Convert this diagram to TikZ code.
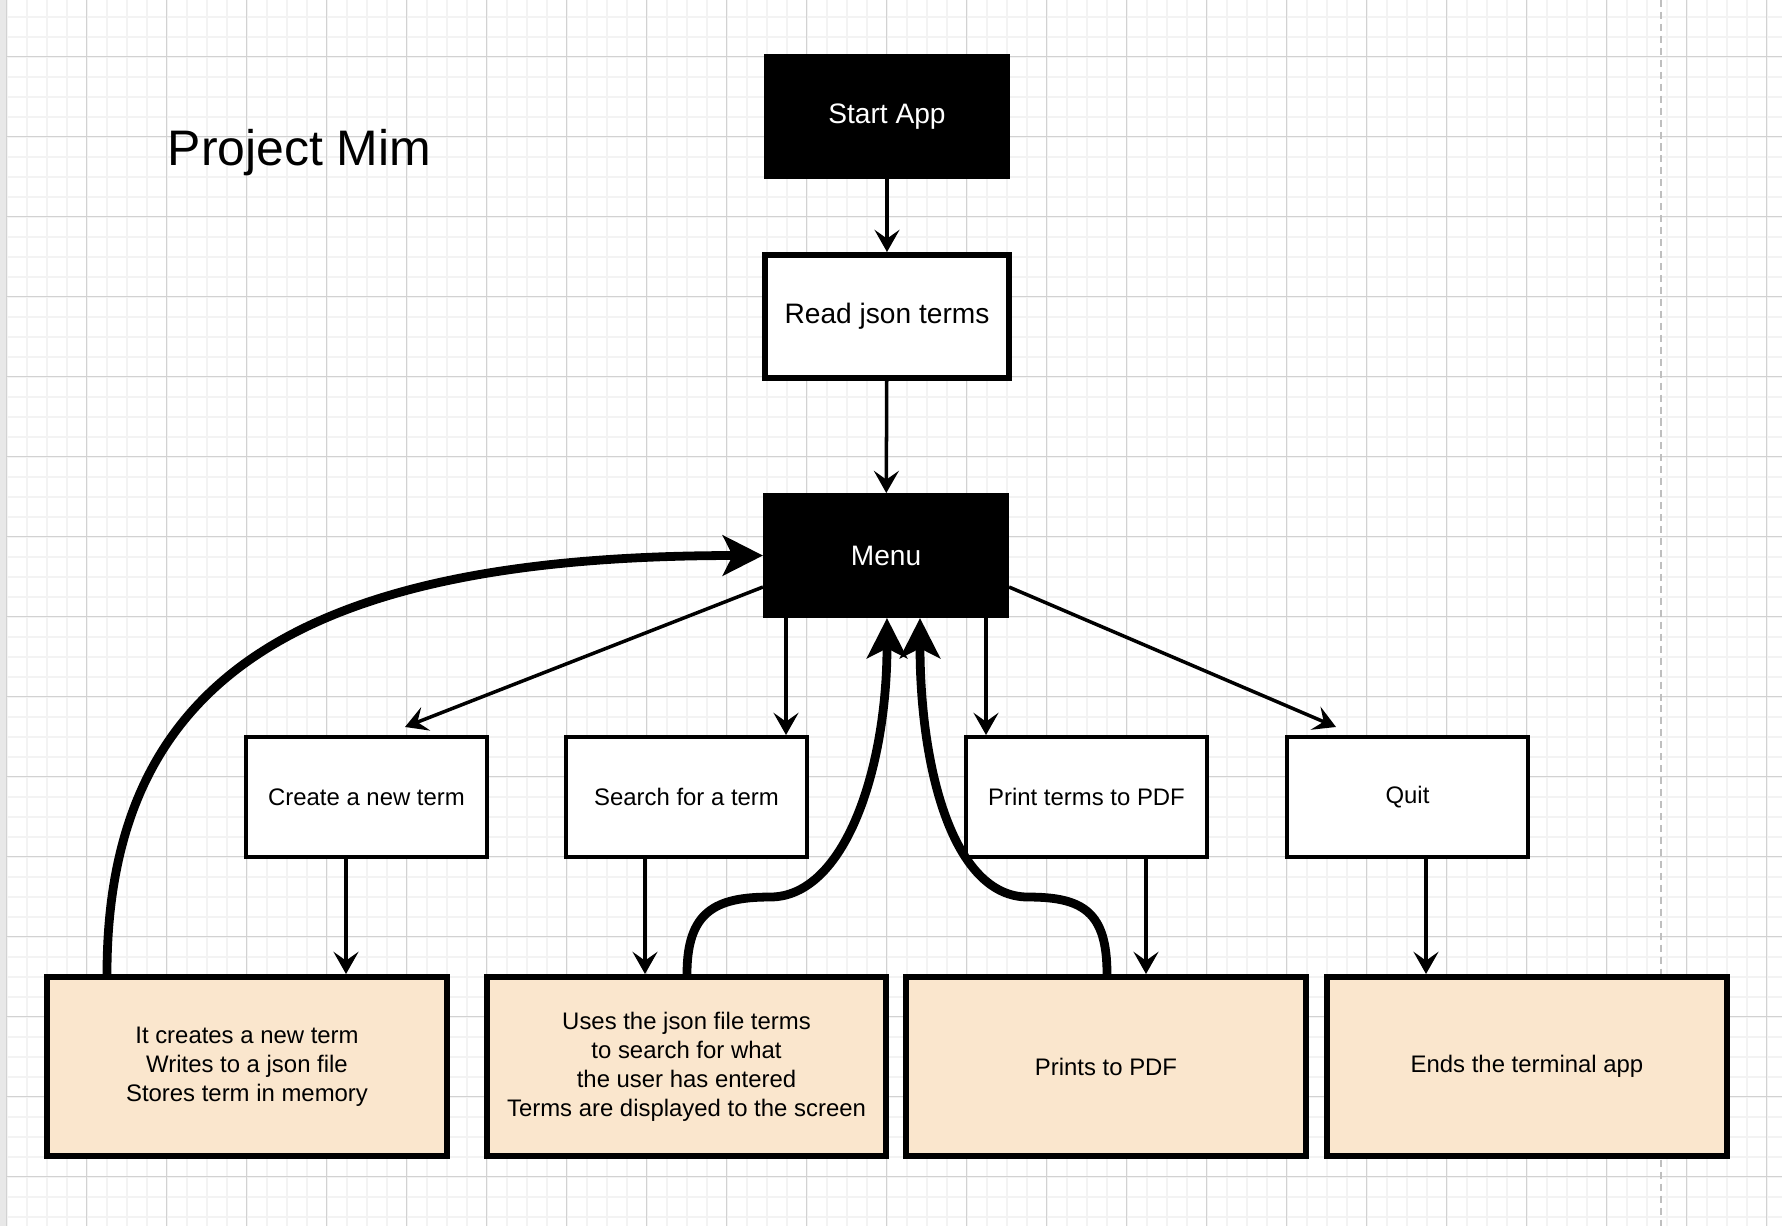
\documentclass[tikz,border=0pt]{standalone}
\usepackage{fontspec}
\setmainfont{Liberation Sans}
\usetikzlibrary{arrows.meta}
\definecolor{peach}{RGB}{250,230,205}
\definecolor{gridminor}{RGB}{243,243,243}
\definecolor{gridmajor}{RGB}{210,210,210}

\begin{document}
\begin{tikzpicture}[
    x=0.01cm, y=-0.01cm,
    dark/.style={draw, fill=black, text=white, line width=1.7pt, minimum width=2.40cm,
                 minimum height=1.19cm, align=center, font=\fontsize{8}{9.6}\selectfont},
    plain/.style={draw, fill=white, line width=1.7pt, minimum width=2.44cm,
                  minimum height=1.23cm, align=center, font=\fontsize{8}{9.6}\selectfont},
    choice/.style={draw, fill=white, line width=1.14pt, minimum width=2.41cm,
                   minimum height=1.20cm, align=center, font=\fontsize{6.8}{8.2}\selectfont},
    result/.style={draw, fill=peach, line width=1.7pt, minimum width=3.99cm,
                   minimum height=1.79cm, align=center, font=\fontsize{6.8}{8.25}\selectfont},
    arr/.style={-{Stealth[length=6.3pt, width=7.1pt, inset=2.5pt]}, line width=1pt},
    back/.style={-{Stealth[length=11.4pt, width=11.4pt, inset=2.8pt]}, line width=2.5pt},
]
    \useasboundingbox (0,0) rectangle (1782,1226);
    \fill[white] (0,0) rectangle (1782,1226);
    % canvas grid
    \foreach \i in {0,...,88}
        \draw[gridminor, line width=0.57pt] ({6.67+20*\i},0) -- ({6.67+20*\i},1226);
    \foreach \j in {0,...,60}
        \draw[gridminor, line width=0.57pt] (0,{16.67+20*\j}) -- (1782,{16.67+20*\j});
    \foreach \i in {0,...,22}
        \draw[gridmajor, line width=0.3pt] ({6.67+80*\i},0) -- ({6.67+80*\i},1226);
    \foreach \j in {0,...,14}
        \draw[gridmajor, line width=0.3pt] (0,{56.67+80*\j}) -- (1782,{56.67+80*\j});
    \fill[black!9] (0,0) rectangle (6,1226);
    \draw[black!25, line width=0.57pt, dash pattern=on 2pt off 1.4pt] (1661,0) -- (1661,1226);

    \node[anchor=base west, inner sep=0, font=\fontsize{14.2}{17}\selectfont] (title) at (167,165) {Project Mim};

    \node[dark] (start) at (887,116.5) {Start App};
    \node[plain] (read) at (887,316.5) {Read json terms};
    \node[dark] (menu) at (886,555.5) {Menu};

    \node[choice] (create) at (366.5,797) {Create a new term};
    \node[choice] (search) at (686.5,797) {Search for a term};
    \node[choice] (print) at (1086.5,797) {Print terms to PDF};
    \node[choice] (quit) at (1407.5,797) {Quit};

    \node[result] (created) at (247,1066.5) {It creates a new term\\Writes to a json file\\Stores term in memory};
    \node[result] (found) at (686.5,1066.5) {Uses the json file terms\\to search for what\\the user has entered\\Terms are displayed to the screen};
    \node[result] (printed) at (1106,1066.5) {Prints to PDF};
    \node[result] (ended) at (1527,1066.5) {Ends the terminal app};

    \draw[arr] (start) -- (read);
    \draw[arr] (read) -- (menu);

    \draw[arr] ([shift={(0,31.5)}]menu.west) -- ([shift={(38.5,-8)}]create.north);
    \draw[arr] ([shift={(-100,0)}]menu.south) -- ([shift={(-100,0)}]menu.south |- search.north);
    \draw[arr] ([shift={(100,0)}]menu.south) -- ([shift={(100,0)}]menu.south |- print.north);
    \draw[arr] ([shift={(0,31.5)}]menu.east) -- ([shift={(-71.5,-8)}]quit.north);

    \draw[arr] ([shift={(-20.5,0)}]create.south) -- ([shift={(-20.5,0)}]create.south |- created.north);
    \draw[arr] ([shift={(-41.5,0)}]search.south) -- ([shift={(-41.5,0)}]search.south |- found.north);
    \draw[arr] ([shift={(59.5,0)}]print.south) -- ([shift={(59.5,0)}]print.south |- printed.north);
    \draw[arr] ([shift={(18.5,0)}]quit.south) -- ([shift={(18.5,0)}]quit.south |- ended.north);

    % returns to the menu
    \draw[back] ([shift={(-140,0)}]created.north)
        to[out=90, in=180, out distance=2.95cm, in distance=4.62cm] (menu.west);
    \draw[back] ([shift={(0.5,0)}]found.north)
        to[out=90, in=180, out distance=0.62cm, in distance=0.55cm] (770,897)
        to[out=0, in=-90, out distance=0.75cm, in distance=1.5cm] ([shift={(1,0)}]menu.south);
    \draw[back] ([shift={(1,0)}]printed.north)
        to[out=90, in=0, out distance=0.62cm, in distance=0.55cm] (1028,897)
        to[out=180, in=-90, out distance=0.75cm, in distance=1.5cm] ([shift={(34,0)}]menu.south);
\end{tikzpicture}
\end{document}
